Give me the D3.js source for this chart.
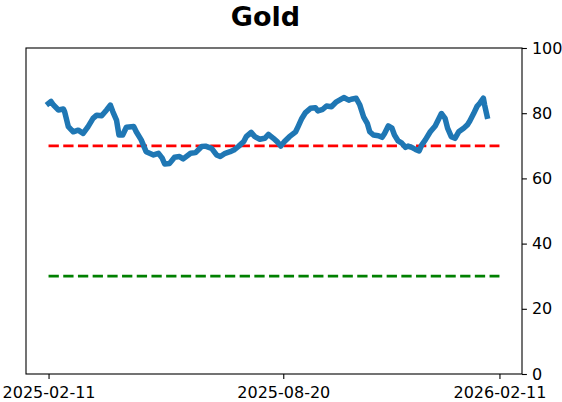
<!DOCTYPE html>
<html><head><meta charset="utf-8">
<script src="https://cdn.jsdelivr.net/npm/d3@7"></script>
<style>body{margin:0;background:#fff} svg{display:block} text{font-family:"DejaVu Sans",sans-serif}</style>
</head><body><svg id="c" width="562" height="402"></svg>
<script>
const title = "Gold";
const dates = ["2025-02-11","2025-02-13","2025-02-15","2025-02-19","2025-02-23","2025-02-24","2025-02-27","2025-03-03","2025-03-07","2025-03-11","2025-03-15","2025-03-19","2025-03-22","2025-03-26","2025-03-30","2025-04-02","2025-04-04","2025-04-07","2025-04-09","2025-04-12","2025-04-15","2025-04-21","2025-04-23","2025-04-27","2025-05-01","2025-05-07","2025-05-11","2025-05-14","2025-05-16","2025-05-20","2025-05-24","2025-05-28","2025-05-31","2025-06-06","2025-06-10","2025-06-15","2025-06-18","2025-06-23","2025-06-27","2025-06-30","2025-07-04","2025-07-08","2025-07-11","2025-07-15","2025-07-19","2025-07-21","2025-07-25","2025-07-28","2025-08-01","2025-08-05","2025-08-08","2025-08-12","2025-08-15","2025-08-18","2025-08-21","2025-08-25","2025-08-30","2025-09-01","2025-09-04","2025-09-07","2025-09-11","2025-09-15","2025-09-17","2025-09-21","2025-09-24","2025-09-28","2025-10-02","2025-10-08","2025-10-12","2025-10-14","2025-10-18","2025-10-21","2025-10-24","2025-10-27","2025-10-29","2025-11-01","2025-11-05","2025-11-08","2025-11-10","2025-11-13","2025-11-16","2025-11-18","2025-11-21","2025-11-24","2025-11-27","2025-11-29","2025-12-02","2025-12-05","2025-12-08","2025-12-10","2025-12-13","2025-12-17","2025-12-21","2025-12-24","2025-12-26","2025-12-29","2025-12-31","2026-01-03","2026-01-06","2026-01-09","2026-01-13","2026-01-16","2026-01-18","2026-01-21","2026-01-24","2026-01-26","2026-01-29","2026-01-30","2026-02-01"];
const values = [83.0,83.6,82.5,81.0,81.3,80.5,75.9,74.3,74.8,73.8,75.9,78.4,79.4,79.2,81.0,82.5,80.5,77.9,73.3,73.3,75.7,75.9,74.3,71.8,68.2,67.2,67.7,66.2,64.4,64.6,66.5,66.7,66.0,67.7,67.9,69.8,69.9,69.2,67.2,66.7,67.7,68.2,68.7,69.9,71.3,72.8,74.1,72.8,72.0,72.3,73.5,72.3,71.3,69.9,71.3,72.8,74.3,75.9,78.4,80.2,81.5,81.7,80.7,81.2,82.2,82.0,83.5,84.8,84.0,84.3,84.6,82.5,78.9,76.9,74.3,73.3,73.1,72.6,73.8,76.1,75.4,73.3,71.5,70.8,69.5,69.9,69.5,68.9,68.4,70.2,71.8,74.3,76.1,78.4,79.9,78.4,75.4,72.8,72.3,74.3,75.4,76.4,77.6,79.8,82.2,83.0,84.6,82.5,79.1];
const refLevels = [70, 30];
const refColors = ["#ff0000", "#008000"];
const refSpan = ["2025-02-11", "2026-02-11"];
const xTickLabels = ["2025-02-11", "2025-08-20", "2026-02-11"];
const yTicks = [0, 20, 40, 60, 80, 100];

const parse = d3.timeParse("%Y-%m-%d");
const svg = d3.select("#c");
const L = 26, R = 522, T = 48, B = 374;

const s0 = parse(refSpan[0]), s1 = parse(refSpan[1]);
const pad = (s1 - s0) * 0.05;
const x = d3.scaleTime().domain([new Date(+s0 - pad), new Date(+s1 + pad)]).range([L, R]);
const y = d3.scaleLinear().domain([0, 100]).range([B, T]);

// reference lines
refLevels.forEach((lv, i) => {
  svg.append("line")
    .attr("x1", x(s0)).attr("x2", x(s1))
    .attr("y1", y(lv)).attr("y2", y(lv))
    .attr("stroke", refColors[i]).attr("stroke-width", 2.8)
    .attr("stroke-dasharray", "10.3,4.4");
});

// main line
const pts = dates.map((d, i) => [parse(d), values[i]]);
svg.append("path")
  .datum(pts)
  .attr("d", d3.line().x(d => x(d[0])).y(d => y(d[1])))
  .attr("fill", "none").attr("stroke", "#1f77b4")
  .attr("stroke-width", 5.5).attr("stroke-linejoin", "round").attr("stroke-linecap", "square");

// frame
svg.append("rect").attr("x", L).attr("y", T).attr("width", R - L).attr("height", B - T)
  .attr("fill", "none").attr("stroke", "#000").attr("stroke-width", 1.1);

// axes
const xAxis = d3.axisBottom(x).tickValues(xTickLabels.map(parse))
  .tickFormat(d3.timeFormat("%Y-%m-%d")).tickSize(4.9).tickPadding(8);
const gx = svg.append("g").attr("transform", `translate(0,${B})`).call(xAxis);
const yAxis = d3.axisRight(y).tickValues(yTicks).tickFormat(d3.format("d")).tickSize(4.9).tickPadding(5);
const gy = svg.append("g").attr("transform", `translate(${R},0)`).call(yAxis);
[gx, gy].forEach(g => {
  g.select(".domain").remove();
  g.selectAll(".tick line").attr("stroke", "#000").attr("stroke-width", 1.1);
  g.selectAll(".tick text").attr("fill", "#000").style("font-size", "16px").style("font-family", "DejaVu Sans");
});

// title
svg.append("text").attr("x", 265.5).attr("y", 25.5).attr("text-anchor", "middle")
  .style("font-size", "27px").style("font-weight", "bold").text(title);
</script></body></html>
